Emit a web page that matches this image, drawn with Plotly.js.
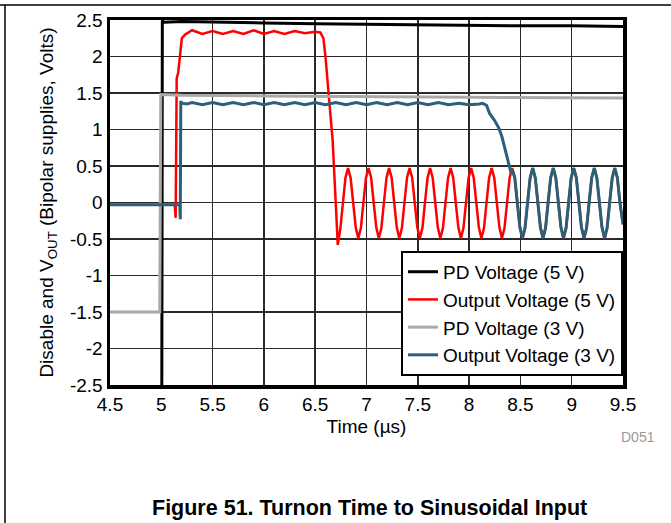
<!DOCTYPE html>
<html>
<head>
<meta charset="utf-8">
<script src="https://cdn.plot.ly/plotly-3.0.1.min.js"></script>
<style>html,body{margin:0;padding:0;background:#fff;}#chart{width:671px;height:523px;}</style>
</head>
<body>
<div id="chart"></div>
<script>
// ---- Data (time in microseconds, voltage in volts) ----
const pd5T = [4.5, 5.005, 5.01, 5.03, 5.2, 5.5, 6, 6.5, 7, 7.5, 8, 8.5, 9, 9.5];
const pd5V = [-2.6, -2.6, 2.49, 2.47, 2.48, 2.47, 2.46, 2.45, 2.44, 2.44, 2.43, 2.42, 2.42, 2.41];

const pd3T = [4.5, 4.985, 4.995, 5.02, 5.2, 6, 7, 8, 9, 9.5];
const pd3V = [-1.5, -1.5, 1.48, 1.48, 1.47, 1.46, 1.45, 1.44, 1.43, 1.43];

// Output (5 V) before the sinusoid appears
const out5PreT = [4.5, 5.13, 5.14, 5.15, 5.165, 5.2, 5.23, 5.27, 5.3, 5.4, 5.5, 5.6, 5.7, 5.8, 5.9, 6.0, 6.1, 6.2, 6.3, 6.4, 6.5, 6.55, 6.58, 6.6, 6.63, 6.67, 6.7, 6.72, 6.745, 6.77, 6.795];
const out5PreV = [-0.03, -0.03, -0.21, 1.7, 1.78, 2.25, 2.3, 2.33, 2.36, 2.31, 2.35, 2.31, 2.35, 2.31, 2.36, 2.31, 2.35, 2.31, 2.35, 2.32, 2.34, 2.33, 2.25, 2.0, 1.5, 0.85, 0.0, -0.58, -0.36, 0.0, 0.34];

// Output (3 V) before the sinusoid appears
const out3PreT = [4.5, 5.18, 5.185, 5.19, 5.2, 5.25, 5.3, 5.4, 5.5, 5.6, 5.7, 5.8, 5.9, 6.0, 6.1, 6.2, 6.3, 6.4, 6.5, 6.6, 6.7, 6.8, 6.9, 7.0, 7.1, 7.2, 7.3, 7.4, 7.5, 7.6, 7.7, 7.8, 7.9, 8.0, 8.1, 8.13, 8.17, 8.2, 8.25, 8.29, 8.32, 8.34, 8.37, 8.395, 8.41, 8.42];
const out3PreV = [-0.03, -0.03, -0.23, 1.39, 1.36, 1.35, 1.37, 1.34, 1.37, 1.34, 1.37, 1.34, 1.37, 1.34, 1.37, 1.34, 1.37, 1.34, 1.37, 1.34, 1.37, 1.34, 1.37, 1.34, 1.37, 1.34, 1.37, 1.34, 1.37, 1.34, 1.37, 1.34, 1.36, 1.34, 1.35, 1.36, 1.33, 1.22, 1.12, 1.02, 0.9, 0.78, 0.62, 0.45, 0.4, 0.45];

// Sinusoidal output (shared by both outputs once enabled)
const sineT = [6.82, 6.845, 6.87, 6.895, 6.92, 6.945, 6.97, 6.995,
  7.02, 7.045, 7.07, 7.095, 7.12, 7.145, 7.17, 7.195,
  7.22, 7.245, 7.27, 7.295, 7.32, 7.345, 7.37, 7.395,
  7.42, 7.445, 7.47, 7.495, 7.52, 7.545, 7.57, 7.595,
  7.62, 7.645, 7.67, 7.695, 7.72, 7.745, 7.77, 7.795,
  7.82, 7.845, 7.87, 7.895, 7.92, 7.945, 7.97, 7.995,
  8.02, 8.045, 8.07, 8.095, 8.12, 8.145, 8.17, 8.195,
  8.22, 8.245, 8.27, 8.295, 8.32, 8.345, 8.37, 8.395,
  8.42, 8.445, 8.47, 8.495, 8.52, 8.545, 8.57, 8.595,
  8.62, 8.645, 8.67, 8.695, 8.72, 8.745, 8.77, 8.795,
  8.82, 8.845, 8.87, 8.895, 8.92, 8.945, 8.97, 8.995,
  9.02, 9.045, 9.07, 9.095, 9.12, 9.145, 9.17, 9.195,
  9.22, 9.245, 9.27, 9.295, 9.32, 9.345, 9.37, 9.395,
  9.42, 9.445, 9.47, 9.5];
const sineV = [0.47, 0.34, 0, -0.34, -0.49, -0.35, 0, 0.34,
  0.47, 0.34, 0, -0.34, -0.49, -0.35, 0, 0.34,
  0.47, 0.34, 0, -0.34, -0.49, -0.35, 0, 0.34,
  0.47, 0.34, 0, -0.34, -0.49, -0.35, 0, 0.34,
  0.47, 0.34, 0, -0.34, -0.49, -0.35, 0, 0.34,
  0.47, 0.34, 0, -0.34, -0.49, -0.35, 0, 0.34,
  0.47, 0.34, 0, -0.34, -0.49, -0.35, 0, 0.34,
  0.47, 0.34, 0, -0.34, -0.49, -0.35, 0, 0.34,
  0.47, 0.34, 0, -0.34, -0.49, -0.35, 0, 0.34,
  0.47, 0.34, 0, -0.34, -0.49, -0.35, 0, 0.34,
  0.47, 0.34, 0, -0.34, -0.49, -0.35, 0, 0.34,
  0.47, 0.34, 0, -0.34, -0.49, -0.35, 0, 0.34,
  0.47, 0.34, 0, -0.34, -0.49, -0.35, 0, 0.34,
  0.47, 0.34, 0.0, -0.3];

const seriesNames = ['PD Voltage (5 V)', 'Output Voltage (5 V)', 'PD Voltage (3 V)', 'Output Voltage (3 V)'];

const xTickVals = [4.5, 5, 5.5, 6, 6.5, 7, 7.5, 8, 8.5, 9, 9.5];
const xTickText = ['4.5', '5', '5.5', '6', '6.5', '7', '7.5', '8', '8.5', '9', '9.5'];
const yTickVals = [2.5, 2, 1.5, 1, 0.5, 0, -0.5, -1, -1.5, -2, -2.5];
const yTickText = ['2.5', '2', '1.5', '1', '0.5', '0', '-0.5', '-1', '-1.5', '-2', '-2.5'];

// ---- Build traces ----
const out5T = out5PreT.concat(sineT);
const out5V = out5PreV.concat(sineV);
const joinIdx = sineT.indexOf(8.445);
const out3T = out3PreT.concat(sineT.slice(joinIdx));
const out3V = out3PreV.concat(sineV.slice(joinIdx));

const FONT = 'Liberation Sans, Arial, Helvetica, sans-serif';

const traces = [
  {x: pd5T, y: pd5V, name: seriesNames[0], mode: 'lines', line: {color: '#000000', width: 3}},
  {x: out5T, y: out5V, name: seriesNames[1], mode: 'lines', line: {color: '#ff0000', width: 2.5}},
  {x: pd3T, y: pd3V, name: seriesNames[2], mode: 'lines', line: {color: '#a9a9a9', width: 3}},
  {x: out3T, y: out3V, name: seriesNames[3], mode: 'lines', line: {color: '#2b6079', width: 3}}
];

const W = 513, H = 365; // plot area size in px
const layout = {
  width: 671, height: 523,
  margin: {l: 110, r: 48, t: 20, b: 138},
  paper_bgcolor: '#ffffff', plot_bgcolor: '#ffffff',
  font: {family: FONT, color: '#000', size: 19},
  showlegend: true,
  legend: {
    x: 1, xanchor: 'right', y: 0.025, yanchor: 'bottom',
    bgcolor: '#ffffff', bordercolor: '#000000', borderwidth: 2,
    font: {family: FONT, size: 19, color: '#000'},
    tracegroupgap: 0
  },
  xaxis: {
    range: [4.5, 9.5], tickmode: 'array', tickvals: xTickVals, ticktext: xTickText,
    showgrid: true, gridcolor: '#2a2a2a', gridwidth: 1.5,
    showline: true, linecolor: '#000', linewidth: 3.5, mirror: true,
    ticks: '', zeroline: false,
    tickfont: {family: FONT, size: 19, color: '#000'},
    title: {text: 'Time (µs)', font: {family: FONT, size: 19, color: '#000'}, standoff: 6}
  },
  yaxis: {
    range: [-2.5, 2.5], tickmode: 'array', tickvals: yTickVals, ticktext: yTickText,
    showgrid: true, gridcolor: '#2a2a2a', gridwidth: 1.5,
    showline: true, linecolor: '#000', linewidth: 3.5, mirror: true,
    ticks: '', zeroline: false,
    tickfont: {family: FONT, size: 19, color: '#000'},
    title: {text: 'Disable and V<sub>OUT</sub> (Bipolar supplies, Volts)', font: {family: FONT, size: 19, color: '#000'}, standoff: 12}
  },
  shapes: [
    {type: 'line', xref: 'paper', yref: 'paper', x0: -110 / W, x1: 561 / W, y0: 380 / H, y1: 380 / H, line: {color: '#000', width: 1.5}},
    {type: 'line', xref: 'paper', yref: 'paper', x0: -105 / W, x1: -105 / W, y0: 380 / H, y1: -138 / H, line: {color: '#000', width: 1.5}}
  ],
  annotations: [
    {xref: 'paper', yref: 'paper', x: 528 / W, y: -52 / H, xanchor: 'center', yanchor: 'middle', showarrow: false,
     text: 'D051', font: {family: FONT, size: 14, color: '#999999'}},
    {xref: 'paper', yref: 'paper', x: 259 / W, y: -123 / H, xanchor: 'center', yanchor: 'middle', showarrow: false,
     text: '<b>Figure 51. Turnon Time to Sinusoidal Input</b>', font: {family: FONT, size: 21.5, color: '#000'}}
  ]
};

Plotly.newPlot('chart', traces, layout, {staticPlot: true, displayModeBar: false});
</script>
</body>
</html>
